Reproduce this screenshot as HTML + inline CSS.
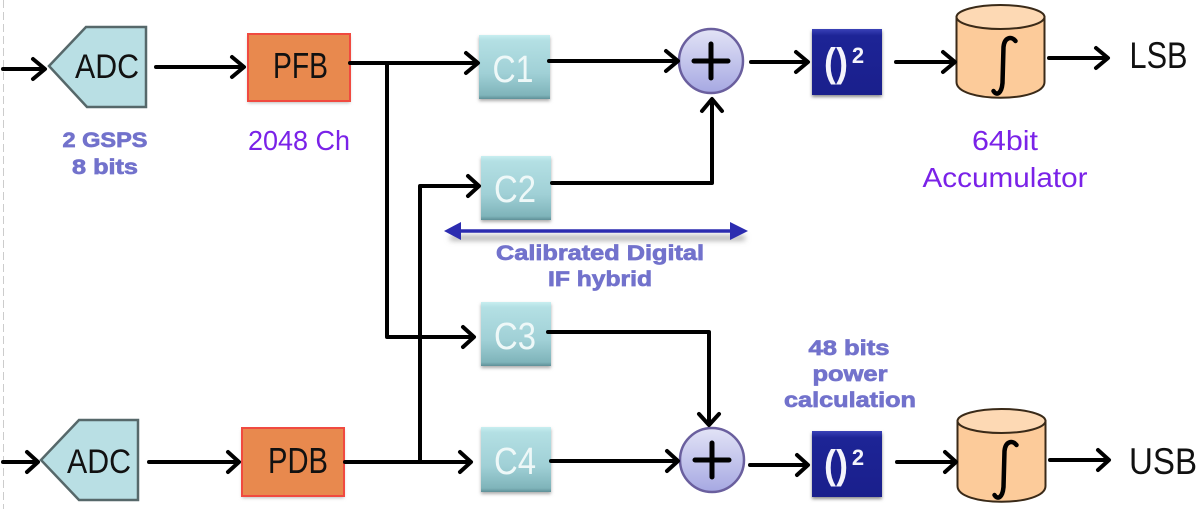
<!DOCTYPE html>
<html><head><meta charset="utf-8"><style>
html,body{margin:0;padding:0;background:#fff}
svg{display:block;width:1200px;height:509px}
text{font-family:"Liberation Sans",sans-serif;text-anchor:middle}
.b{font-size:34px;fill:#111}
.c{font-size:38px;fill:#eef8f8}
.p{font-size:28px;fill:#7a22e8}
.k{font-size:21px;font-weight:bold;fill:#7272cc;stroke:#7272cc;stroke-width:.7}
.n{stroke:#000;stroke-width:4;fill:none;stroke-linecap:round;stroke-linejoin:round}
.s{font-size:40px;font-weight:bold;fill:#f4f4fb}
.t{font-size:22px;font-weight:bold;fill:#f4f4fb}
</style></head><body>
<svg viewBox="0 0 1200 509" xmlns="http://www.w3.org/2000/svg">
<defs>
<linearGradient id="cg" x1="0" y1="0" x2="0" y2="1"><stop offset="0" stop-color="#c8eef0"/><stop offset=".08" stop-color="#b4e0e4"/><stop offset=".6" stop-color="#a0d0d6"/><stop offset=".94" stop-color="#7fb4ba"/><stop offset="1" stop-color="#5f9098"/></linearGradient>
<linearGradient id="sg" x1="0" y1="0" x2="0" y2="1"><stop offset="0" stop-color="#e2e3f6"/><stop offset="1" stop-color="#a6a8e2"/></linearGradient>
<linearGradient id="bg" x1="0" y1="0" x2="0" y2="1"><stop offset="0" stop-color="#3a42b8"/><stop offset=".1" stop-color="#1d2496"/><stop offset="1" stop-color="#1a1f8c"/></linearGradient>
<filter id="sh" x="-20%" y="-20%" width="140%" height="140%"><feGaussianBlur stdDeviation="1.5"/></filter>
<filter id="sh2" x="-10%" y="-200%" width="120%" height="500%"><feGaussianBlur stdDeviation="3"/></filter>
<g id="cyl">
<path d="M1 16 V81 C1 102 89 102 89 81 V16 Z" fill="#fccb9a" stroke="#3a2a18" stroke-width="2"/>
<ellipse cx="45" cy="16" rx="44" ry="12" fill="#fdd9b4" stroke="#3a2a18" stroke-width="2"/>
<path d="M60 40 C56 35 49 36 48 46 L47 82 C46 93 41 95 38 90" fill="none" stroke="#000" stroke-width="4.5" stroke-linecap="round"/>
</g>
<g id="sq">
<rect x="0" y="2" width="70" height="66" fill="#888" filter="url(#sh)"/>
<rect x="0" y="0" width="70" height="66" fill="url(#bg)"/>
<text class="s" x="24" y="47" textLength="24" lengthAdjust="spacingAndGlyphs">()</text>
<text class="t" x="46" y="34">2</text>
</g>
<g id="sum">
<circle r="32" fill="url(#sg)" stroke="#6a5f9e" stroke-width="2.5"/>
<path d="M-17 0H17M0 -17V17" stroke="#000" stroke-width="5" stroke-linecap="round"/>
</g>
</defs>

<path d="M3.5 0V509" stroke="#ccc" stroke-width="1" stroke-dasharray="8 4"/>

<polygon points="49,66 86,27 146,27 146,107 87,107" fill="#b9dfe4" stroke="#56686a" stroke-width="2.5"/>
<text class="b" x="107" y="78" textLength="64" lengthAdjust="spacingAndGlyphs">ADC</text>
<rect x="248" y="36" width="102" height="67" fill="#bbb" filter="url(#sh)"/>
<rect x="248" y="34" width="102" height="67" fill="#e8894e" stroke="#f04a40" stroke-width="2"/>
<text class="b" x="300.5" y="78" style="font-size:36px" textLength="55" lengthAdjust="spacingAndGlyphs">PFB</text>

<rect x="479" y="37" width="71" height="64" fill="#aaa" filter="url(#sh)"/>
<rect x="479" y="35" width="71" height="64" fill="url(#cg)"/>
<text class="c" x="513" y="82" textLength="41" lengthAdjust="spacingAndGlyphs">C1</text>
<rect x="481" y="158" width="70" height="64" fill="#aaa" filter="url(#sh)"/>
<rect x="481" y="156" width="70" height="64" fill="url(#cg)"/>
<text class="c" x="515" y="202" textLength="42" lengthAdjust="spacingAndGlyphs">C2</text>
<rect x="481" y="304" width="70" height="64" fill="#aaa" filter="url(#sh)"/>
<rect x="481" y="302" width="70" height="64" fill="url(#cg)"/>
<text class="c" x="515" y="349" textLength="42" lengthAdjust="spacingAndGlyphs">C3</text>
<rect x="481" y="429" width="70" height="65" fill="#aaa" filter="url(#sh)"/>
<rect x="481" y="427" width="70" height="65" fill="url(#cg)"/>
<text class="c" x="515" y="474" textLength="42" lengthAdjust="spacingAndGlyphs">C4</text>

<polygon points="41,460 79,420 138,420 138,500 79,500" fill="#b9dfe4" stroke="#56686a" stroke-width="2.5"/>
<text class="b" x="99" y="473" textLength="64" lengthAdjust="spacingAndGlyphs">ADC</text>
<rect x="242" y="430" width="102" height="68" fill="#bbb" filter="url(#sh)"/>
<rect x="242" y="428" width="102" height="68" fill="#e8894e" stroke="#f04a40" stroke-width="2"/>
<text class="b" x="298" y="473" style="font-size:36px" textLength="60" lengthAdjust="spacingAndGlyphs">PDB</text>

<use href="#sum" x="711" y="61"/>
<use href="#sum" x="712" y="460"/>
<use href="#sq" x="812" y="29"/>
<use href="#sq" x="812" y="431"/>
<use href="#cyl" x="955.5" y="1"/>
<use href="#cyl" x="956.5" y="405"/>

<g class="n">
<path d="M3 69H44"/><path d="M156 67H243"/>
<path d="M350 63H476"/><path d="M387 63V337H473"/>
<path d="M549 61H676"/><path d="M751 62H806"/>
<path d="M896 62H953"/><path d="M1049 58H1106"/>
<path d="M552 183H712V100"/>
<path d="M345 462H470"/><path d="M420 462V186H478"/>
<path d="M548 332H709V423"/>
<path d="M3 462H37"/><path d="M149 462H238"/>
<path d="M551 461H677"/><path d="M750 465H807"/>
<path d="M897 462H955"/><path d="M1050 460H1108"/>
</g>
<g class="n">
<path d="M33 59L45 69L33 79"/><path d="M232 57L244 67L232 77"/>
<path d="M466 53L478 63L466 73"/><path d="M463 327L474 337L463 347"/>
<path d="M666 51L678 61L666 71"/><path d="M796 52L808 62L796 72"/>
<path d="M943 52L955 62L943 72"/><path d="M1096 48L1108 58L1096 68"/>
<path d="M702 111L712 99L722 111"/>
<path d="M468 176L479 186L468 196"/>
<path d="M699 414L709 425L719 414"/>
<path d="M27 452L38 462L27 472"/><path d="M228 452L239 462L228 472"/>
<path d="M460 452L471 462L460 472"/><path d="M667 451L678 461L667 471"/>
<path d="M797 455L808 465L797 475"/><path d="M945 452L956 462L945 472"/>
<path d="M1098 450L1109 460L1098 470"/>
</g>

<rect x="450" y="236" width="295" height="4" fill="#999" filter="url(#sh2)"/>
<path d="M456 231H732" stroke="#2c2cb0" stroke-width="3.5"/>
<polygon points="444,231 461,222 461,240" fill="#2c2cb0"/>
<polygon points="748,231 730,222 730,240" fill="#2c2cb0"/>

<text class="b" x="1158.5" y="68" style="font-size:37px" textLength="58" lengthAdjust="spacingAndGlyphs">LSB</text>
<text class="b" x="1163" y="474" style="font-size:37px" textLength="68" lengthAdjust="spacingAndGlyphs">USB</text>
<text class="p" x="299" y="150" textLength="102" lengthAdjust="spacingAndGlyphs">2048 Ch</text>
<text class="p" x="1005" y="150" textLength="66" lengthAdjust="spacingAndGlyphs">64bit</text>
<text class="p" x="1005" y="187" textLength="165" lengthAdjust="spacingAndGlyphs">Accumulator</text>
<text class="k" x="105" y="147" textLength="85" lengthAdjust="spacingAndGlyphs">2 GSPS</text>
<text class="k" x="105" y="174" textLength="66" lengthAdjust="spacingAndGlyphs">8 bits</text>
<text class="k" x="600" y="260" textLength="208" lengthAdjust="spacingAndGlyphs">Calibrated Digital</text>
<text class="k" x="600" y="286" textLength="104" lengthAdjust="spacingAndGlyphs">IF hybrid</text>
<text class="k" x="849" y="355" textLength="81" lengthAdjust="spacingAndGlyphs">48 bits</text>
<text class="k" x="850" y="381" textLength="75" lengthAdjust="spacingAndGlyphs">power</text>
<text class="k" x="850" y="407" textLength="132" lengthAdjust="spacingAndGlyphs">calculation</text>
</svg>
</body></html>
